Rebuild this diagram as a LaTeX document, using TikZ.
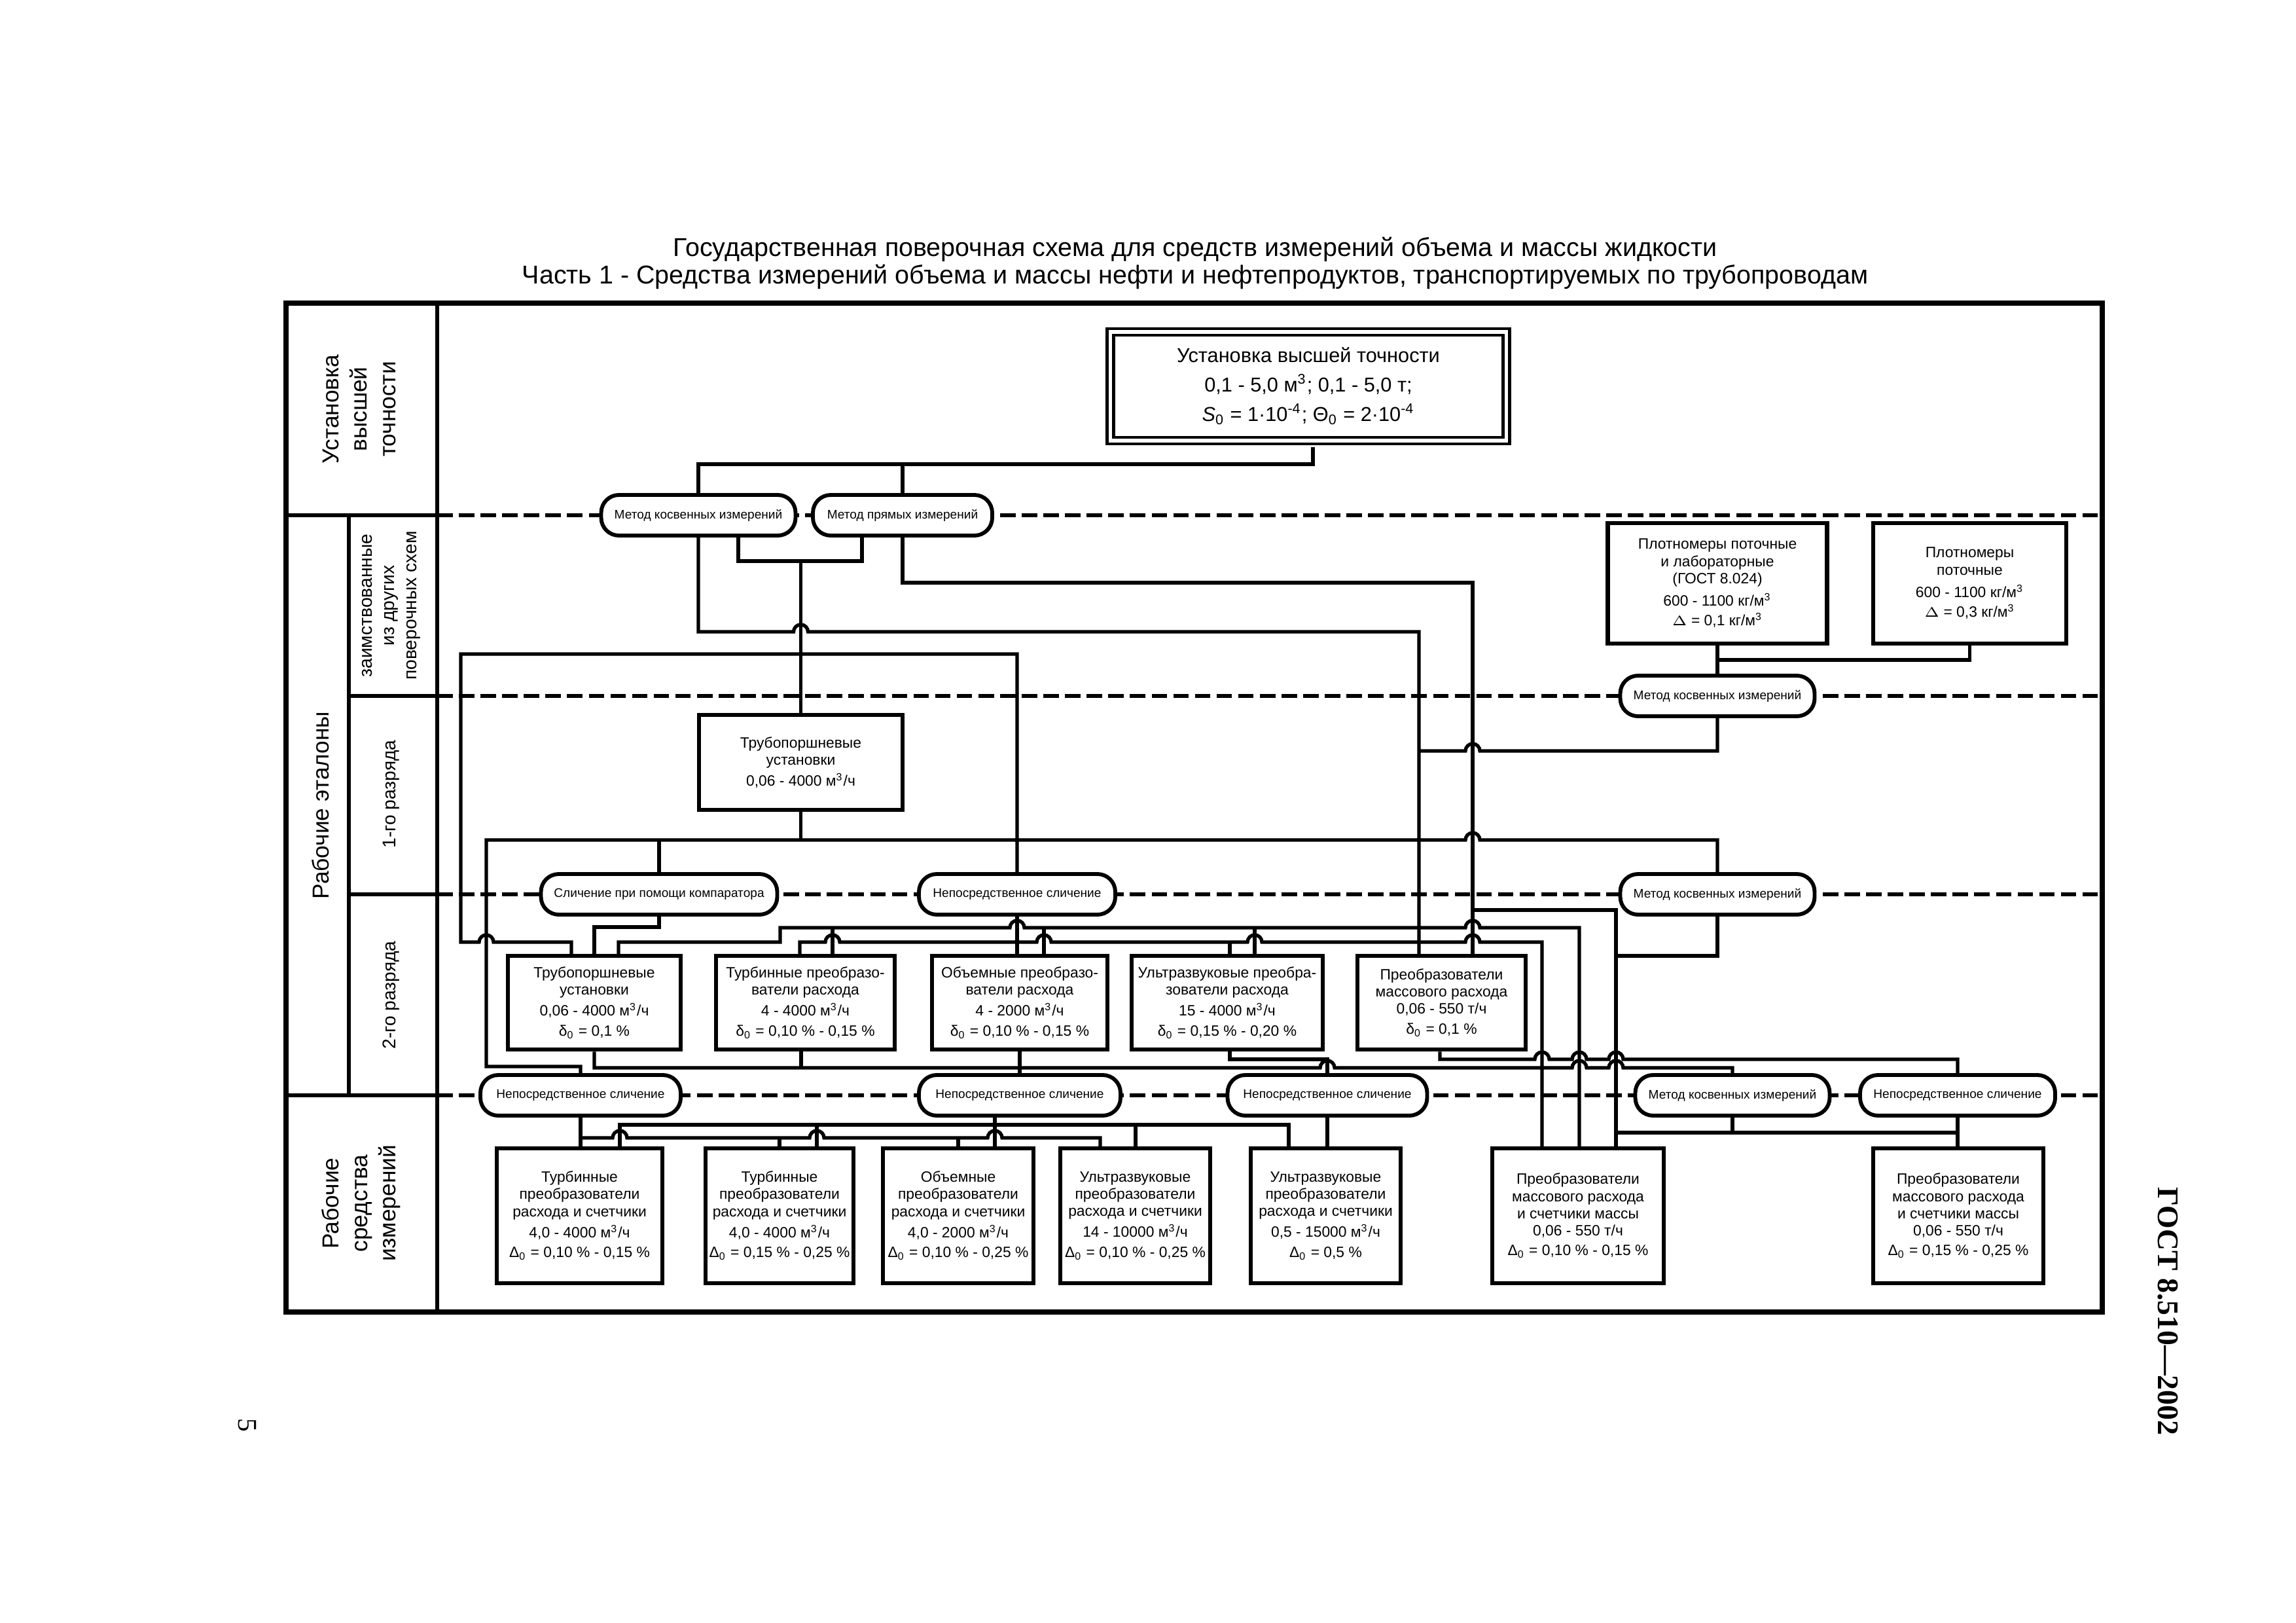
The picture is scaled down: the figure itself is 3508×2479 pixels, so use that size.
\documentclass[tikz,border=0pt]{standalone}
\usepackage{fontspec}
\setmainfont{Liberation Sans}
\newfontfamily\gostserif{Liberation Serif}
\usetikzlibrary{calc}

\newcommand{\pxl}{0.08466mm}
% hop of a horizontal line over a vertical one (to the right / to the left)
\newcommand{\hopr}[2]{-- (#1-11,#2) arc[start angle=180,end angle=0,radius=11*\pxl]}
\newcommand{\hopl}[2]{-- (#1+11,#2) arc[start angle=0,end angle=180,radius=11*\pxl]}
\newcommand{\mkub}{м\textsuperscript{3}}

\begin{document}
\begin{tikzpicture}[x=\pxl,y=-\pxl,
    box/.style={draw,line width=0.55mm,fill=white,inner sep=0pt,align=center,font=\fontsize{5.5}{6.3}\selectfont},
    meth/.style={draw,line width=0.5mm,fill=white,rounded corners=2.3mm,inner sep=0pt,minimum height=62*\pxl,font=\fontsize{4.6}{5}\selectfont},
    lab/.style={rotate=90,align=center,font=\fontsize{8.5}{10.5}\selectfont},
    sublab/.style={rotate=90,align=center,font=\fontsize{6.8}{8.2}\selectfont},
    conn/.style={line width=0.45mm},
    sep/.style={line width=0.45mm,dash pattern=on 2mm off 0.8mm},
    sz/.style 2 args={minimum width=#1*\pxl,minimum height=#2*\pxl}]
    \useasboundingbox (0,0) rectangle (3508,2479);

    % title
    \node[font=\fontsize{9.5}{11}\selectfont] (title1) at (1826,381) {Государственная поверочная схема для средств измерений объема и массы жидкости};
    \node[font=\fontsize{9.5}{11}\selectfont] (title2) at (1826,423) {Часть 1 - Средства измерений объема и массы нефти и нефтепродуктов, транспортируемых по трубопроводам};

    % frame and rows
    \draw[line width=0.6mm] (437,463) rectangle (3212,2004);
    \draw[line width=0.5mm] (668,463) -- (668,2004);
    \draw[line width=0.5mm] (533,787) -- (533,1673);
    \draw[line width=0.5mm] (437,787) -- (668,787) (533,1063) -- (668,1063)
        (533,1366) -- (668,1366) (437,1673) -- (668,1673);
    \foreach \yy in {787,1063,1366,1673}
        \draw[sep] (668,\yy) -- (3212,\yy);

    \node[lab] (lbtop) at (549,625) {Установка\\высшей\\точности};
    \node[lab] (lbet) at (490,1230) {Рабочие эталоны};
    \node[sublab] (lbz) at (598,925) {заимствованные\\из других\\поверочных схем};
    \node[sublab] (lb1) at (598,1213) {1-го разряда};
    \node[sublab] (lb2) at (598,1520) {2-го разряда};
    \node[lab] (lbsi) at (552,1838) {Рабочие\\средства\\измерений};

    % boxes
    \node[box,double,double distance=0.45mm,line width=0.4mm,sz={605}{166},font=\fontsize{7.4}{10.8}\selectfont] (top) at (1999,590)
        {Установка высшей точности\\0,1 - 5,0 \mkub; 0,1 - 5,0 т;\\\textit{S}\textsubscript{0} = 1·10\textsuperscript{-4}; Θ\textsubscript{0} = 2·10\textsuperscript{-4}};
    \node[box,sz={335}{184}] (pl1) at (2624,891) {Плотномеры поточные\\и лабораторные\\(ГОСТ 8.024)\\[2pt]600 - 1100 кг/\mkub\\[1pt]$\Delta$ = 0,1 кг/\mkub};
    \node[box,sz={295}{184}] (pl2) at (3009.5,891) {Плотномеры\\поточные\\[2pt]600 - 1100 кг/\mkub\\[1pt]$\Delta$ = 0,3 кг/\mkub};
    \node[box,sz={311}{145}] (t1) at (1223.5,1164.5) {Трубопоршневые\\установки\\[1.5pt]0,06 - 4000 \mkub/ч};
    \node[box,sz={264}{143}] (s1) at (908,1531.5) {Трубопоршневые\\установки\\[1.5pt]0,06 - 4000 \mkub/ч\\[1pt]δ\textsubscript{0} = 0,1 \%};
    \node[box,sz={273}{143}] (s2) at (1230.5,1531.5) {Турбинные преобразо-\\ватели расхода\\[1.5pt]4 - 4000 \mkub/ч\\[1pt]δ\textsubscript{0} = 0,10 \% - 0,15 \%};
    \node[box,sz={268}{143}] (s3) at (1558,1531.5) {Объемные преобразо-\\ватели расхода\\[1.5pt]4 - 2000 \mkub/ч\\[1pt]δ\textsubscript{0} = 0,10 \% - 0,15 \%};
    \node[box,sz={292}{143}] (s4) at (1875,1531.5) {Ультразвуковые преобра-\\зователи расхода\\[1.5pt]15 - 4000 \mkub/ч\\[1pt]δ\textsubscript{0} = 0,15 \% - 0,20 \%};
    \node[box,sz={257}{143}] (s5) at (2202.5,1531.5) {Преобразователи\\массового расхода\\0,06 - 550 т/ч\\[1pt]δ\textsubscript{0} = 0,1 \%};
    \node[box,sz={253}{206}] (r1) at (885.5,1857) {Турбинные\\преобразователи\\расхода и счетчики\\[1.5pt]4,0 - 4000 \mkub/ч\\[1pt]Δ\textsubscript{0} = 0,10 \% - 0,15 \%};
    \node[box,sz={226}{206}] (r2) at (1191,1857) {Турбинные\\преобразователи\\расхода и счетчики\\[1.5pt]4,0 - 4000 \mkub/ч\\[1pt]Δ\textsubscript{0} = 0,15 \% - 0,25 \%};
    \node[box,sz={230}{206}] (r3) at (1464,1857) {Объемные\\преобразователи\\расхода и счетчики\\[1.5pt]4,0 - 2000 \mkub/ч\\[1pt]Δ\textsubscript{0} = 0,10 \% - 0,25 \%};
    \node[box,sz={229}{206}] (r4) at (1734.5,1857) {Ультразвуковые\\преобразователи\\расхода и счетчики\\[1.5pt]14 - 10000 \mkub/ч\\[1pt]Δ\textsubscript{0} = 0,10 \% - 0,25 \%};
    \node[box,sz={229}{206}] (r5) at (2025.5,1857) {Ультразвуковые\\преобразователи\\расхода и счетчики\\[1.5pt]0,5 - 15000 \mkub/ч\\[1pt]Δ\textsubscript{0} = 0,5 \%};
    \node[box,sz={262}{206}] (r6) at (2411,1857) {Преобразователи\\массового расхода\\и счетчики массы\\0,06 - 550 т/ч\\[1pt]Δ\textsubscript{0} = 0,10 \% - 0,15 \%};
    \node[box,sz={260}{206}] (r7) at (2992,1857) {Преобразователи\\массового расхода\\и счетчики массы\\0,06 - 550 т/ч\\[1pt]Δ\textsubscript{0} = 0,15 \% - 0,25 \%};

    % methods
    \node[meth,minimum width=297*\pxl] (o1) at (1067,787) {Метод косвенных измерений};
    \node[meth,minimum width=274*\pxl] (o2) at (1379,787) {Метод прямых измерений};
    \node[meth,minimum width=297*\pxl] (o3) at (2624,1063) {Метод косвенных измерений};
    \node[meth,minimum width=361*\pxl] (o4) at (1007,1366) {Сличение при помощи компаратора};
    \node[meth,minimum width=300*\pxl] (o5) at (1554,1366) {Непосредственное сличение};
    \node[meth,minimum width=297*\pxl] (o6) at (2624,1366) {Метод косвенных измерений};
    \node[meth,minimum width=306*\pxl] (o7) at (887,1673) {Непосредственное сличение};
    \node[meth,minimum width=308*\pxl] (o8) at (1558,1673) {Непосредственное сличение};
    \node[meth,minimum width=305*\pxl] (o9) at (2028,1673) {Непосредственное сличение};
    \node[meth,minimum width=297*\pxl] (o10) at (2647,1673) {Метод косвенных измерений};
    \node[meth,minimum width=298*\pxl] (o11) at (2991,1673) {Непосредственное сличение};

    % top standard to the methods
    \draw[conn,shorten <=0.63mm] (2006,0 |- top.south) |- (o1.north |- 0,709) -- (o1.north);
    \draw[conn] (o2.north) -- (o2.north |- 0,709);
    \draw[conn] (1128,0 |- o1.south) |- (1317,857) -- (1317,0 |- o2.south);
    \draw[conn] (t1.north |- 0,857) -- (t1.north);
    \draw[conn] (o1.south) -- (o1.south |- 0,965) \hopr{1223.5}{965} -- (2168,965) -- (2168,0 |- s5.north);
    \draw[conn] (o2.south) |- (2250,890) -- (2250,0 |- s5.north);
    \coordinate (jm) at (2250,1390);
    \draw[conn] (jm) -| (2469,0 |- r6.north);

    % density meters
    \draw[conn] (pl1.south) -- (o3.north);
    \draw[conn] (pl2.south) |- (o3.north |- 0,1008);
    \draw[conn] (o3.south) -- (o3.south |- 0,1147) \hopl{2250}{1147} -- (2168,1147);

    % 1st rank
    \draw[conn] (t1.south) -- (t1.south |- 0,1283);
    \draw[conn] (o7.north) |- (743,1629) -- (743,1283) \hopr{2250}{1283} -- (2624,1283) -- (o6.north);
    \draw[conn] (o4.north) -- (o4.north |- 0,1283);
    \draw[conn] (873,0 |- s1.north) -- (873,1439) \hopl{743}{1439} -- (704,1439) -- (704,999) -- (1554,999) -- (o5.north);
    \draw[conn] (o4.south) |- (908,1416) -- (s1.north);

    % 2nd rank inputs
    \draw[conn] (945,0 |- s1.north) -- (945,1439) -- (1192,1439) -- (1192,1417) \hopr{1554}{1417} \hopr{2250}{1417} -- (2413,1417) -- (2413,0 |- r6.north);
    \foreach \xx/\nn in {1272/s2,1595/s3,1917/s4}
        \draw[conn] (\xx,1417) -- (\xx,0 |- \nn.north);
    \draw[conn] (1222,0 |- s2.north) -- (1222,1439) \hopr{1272}{1439} \hopr{1595}{1439} \hopr{1917}{1439} \hopr{2250}{1439} -- (2356,1439) -- (2356,0 |- r6.north);
    \draw[conn] (1879,1439) -- (1879,0 |- s4.north);
    \draw[conn] (o5.south) -- (o5.south |- s3.north);

    % 2nd rank outputs
    \draw[conn] (s1.south) -- (s1.south |- 0,1631) \hopr{2028}{1631} \hopr{2413}{1631} \hopr{2469}{1631} -- (2647,1631) -- (o10.north);
    \draw[conn] (1224,0 |- s2.south) -- (1224,1631);
    \draw[conn] (s3.south) -- (s3.south |- o8.north);
    \draw[conn] (1879,0 |- s4.south) |- (2028,1618) -- (o9.north);
    \draw[conn] (2200,0 |- s5.south) -- (2200,1618) \hopr{2356}{1618} \hopr{2413}{1618} \hopr{2469}{1618} -- (2991,1618) -- (o11.north);
    \draw[conn] (o6.south) |- (2469,1460);

    % working instruments
    \draw[conn] (o7.south) -- (o7.south |- r1.north);
    \draw[conn] (o7.south |- 0,1738) \hopr{947}{1738} \hopr{1248}{1738} \hopr{1520}{1738} -- (1681,1738) -- (1681,0 |- r4.north);
    \foreach \xx/\nn in {1191/r2,1464/r3}
        \draw[conn] (\xx,1738) -- (\xx,0 |- \nn.north);
    \draw[conn] (947,0 |- r1.north) -- (947,1718) -- (1969,1718) -- (1969,0 |- r5.north);
    \foreach \xx/\nn in {1248/r2,1735/r4}
        \draw[conn] (\xx,1718) -- (\xx,0 |- \nn.north);
    \draw[conn] (1520,0 |- o8.south) -- (1520,0 |- r3.north);
    \draw[conn] (o9.south) -- (o9.south |- r5.north);
    \draw[conn] (o10.south) -- (o10.south |- 0,1730);
    \draw[conn] (2469,1730) -| (o11.south);
    \draw[conn] (o11.south) -- (o11.south |- r7.north);

    % page marks
    \node[rotate=-90,font=\gostserif\bfseries\fontsize{11}{13}\selectfont] (gost) at (3312,2003) {ГОСТ 8.510—2002};
    \node[rotate=-90,font=\gostserif\fontsize{10}{12}\selectfont] (pg) at (378,2177) {5};
\end{tikzpicture}
\end{document}
